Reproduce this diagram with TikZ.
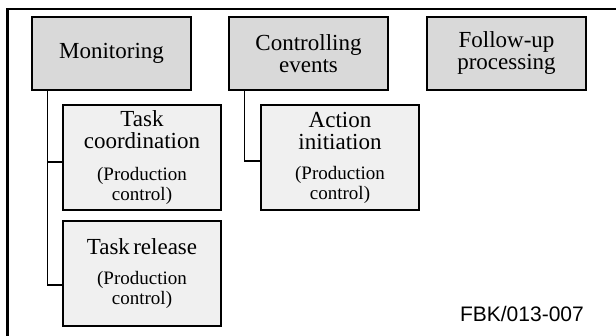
\documentclass[tikz,border=0pt]{standalone}
\usepackage{fontspec}
\setmainfont{Liberation Serif}
\newfontfamily\labelfont{Liberation Sans}
\newcommand\bigtxt{\fontsize{23}{22}\selectfont}
\newcommand\smalltxt{\fontsize{19}{20}\selectfont}

\begin{document}
\begin{tikzpicture}[x=1pt,y=-1pt,
  topbox/.style={draw, line width=1.3pt, fill=black!15, minimum width=159pt,
    minimum height=73pt, text width=150pt, align=center, inner sep=0pt, font=\bigtxt},
  subbox/.style={draw, line width=1.3pt, fill=black!6, minimum width=158pt,
    minimum height=105pt, text width=150pt, align=center, inner sep=0pt},
  link/.style={line width=1.3pt}]

\useasboundingbox (0,0) rectangle (616,336);

% outer frame, only its top and left edge lie in the picture
\draw [line width=2.7pt] (7.5,336) -- (7.5,9) -- (616,9);

% main functions
\node[topbox] (mon)  at (111.5,53.5) {Monitoring};
\node[topbox] (ctrl) at (308.5,53.5) {Controlling\\events};
\node[topbox] (foll) at (506.5,53.5) {Follow-up\\processing};

% sub functions
\node[subbox] (coord) at (142,157.5)
  {{\bigtxt Task\\coordination\par}\vskip 12pt{\smalltxt (Production\\control)\par}};
\node[subbox] (rel) at (142,273.5)
  {{\bigtxt Task release\par}\vskip 10pt{\smalltxt (Production\\control)\par}};
\node[subbox] (act) at (340,157.5)
  {{\bigtxt Action\\initiation\par}\vskip 10pt{\smalltxt (Production\\control)\par}};

% links
\draw [link] ([xshift=16pt]mon.south west) |- ([yshift=-4.5pt]coord.west);
\draw [link] ([xshift=16pt]mon.south west) |- ([yshift=-11.5pt]rel.west);
\draw [link] ([xshift=16pt]ctrl.south west) |- ([yshift=-3.5pt]act.west);

% figure tag
\node [anchor=base east, inner sep=0pt, font=\labelfont\fontsize{21}{24}\selectfont] (tag) at (584,322) {FBK/013-007};

\end{tikzpicture}
\end{document}
